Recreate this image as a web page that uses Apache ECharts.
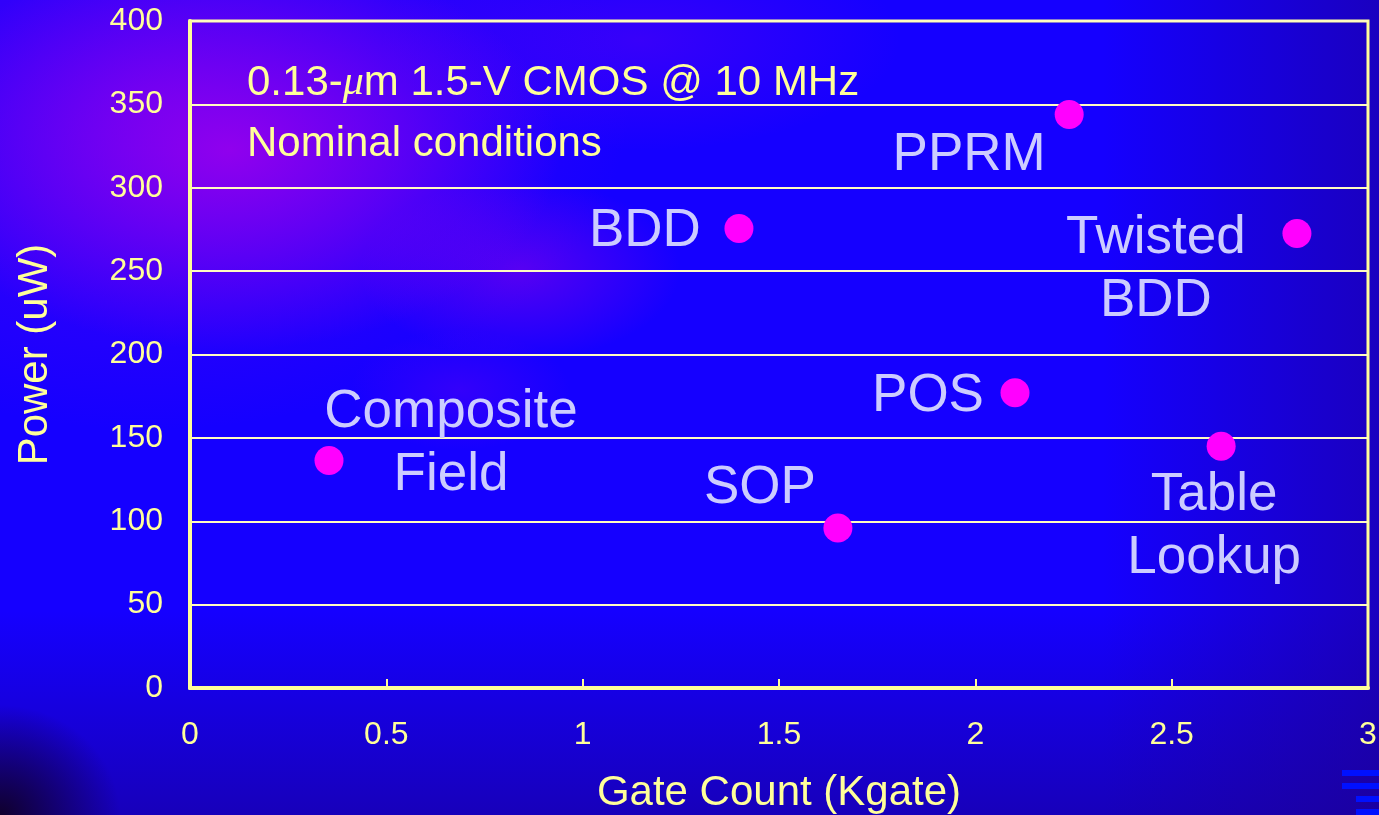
<!DOCTYPE html>
<html>
<head>
<meta charset="utf-8">
<script src="https://cdn.jsdelivr.net/npm/echarts@6/dist/echarts.min.js"></script>
<style>
html,body{margin:0;padding:0;width:1379px;height:815px;overflow:hidden;}
body{
  background:
    radial-gradient(ellipse 120px 110px at 0px 815px, rgba(15,0,30,0.9), rgba(15,0,30,0) 100%),
    radial-gradient(ellipse 330px 200px at 230px 150px, rgba(165,0,235,0.8), rgba(150,0,235,0) 100%),
    radial-gradient(ellipse 480px 330px at 150px 100px, rgba(110,0,240,0.55), rgba(110,0,240,0) 100%),
    radial-gradient(ellipse 160px 90px at 520px 270px, rgba(150,0,230,0.5), rgba(140,0,230,0) 100%),
    radial-gradient(ellipse 260px 110px at 640px 40px, rgba(120,0,240,0.35), rgba(120,0,240,0) 100%),
    radial-gradient(ellipse 110px 60px at 460px 390px, rgba(120,0,240,0.3), rgba(120,0,240,0) 100%),
    linear-gradient(90deg, rgba(30,0,140,0) 80%, rgba(30,0,140,0.55) 100%),
    linear-gradient(180deg, rgba(20,0,120,0) 75%, rgba(25,0,130,0.55) 100%),
    #1500ff;
}
#chart{width:1379px;height:815px;}
</style>
</head>
<body>
<div id="chart"></div>
<script>
// ---- data ----
var names = ['Composite\nField', 'BDD', 'SOP', 'POS', 'PPRM', 'Table\nLookup', 'Twisted\nBDD'];
var gateCount = [0.354, 1.398, 1.650, 2.101, 2.239, 2.626, 2.819];   // Kgate
var power = [136.5, 275.5, 96, 177, 344, 145, 272.5];                 // uW
var xTicks = [0, 0.5, 1, 1.5, 2, 2.5, 3];
var yTicks = [0, 50, 100, 150, 200, 250, 300, 350, 400];
var noteLine1 = ['0.13-', '\u03bc', 'm 1.5-V CMOS @ 10 MHz'];
var noteLine2 = 'Nominal conditions';

// ---- label layout (styles) ----
var labelOffsets = [[122, -16], [-94, 3], [-78, -40], [-87, 4], [-100, 41], [-7, 81], [-141, 36]];

var chart = echarts.init(document.getElementById('chart'));
var yellow = '#ffff99';
var seriesData = names.map(function (n, i) {
  return {
    name: n,
    value: [gateCount[i], power[i]],
    label: { offset: labelOffsets[i] }
  };
});

chart.setOption({
  backgroundColor: 'transparent',
  animation: false,
  grid: {
    left: 190, right: 11, top: 21, bottom: 127,
    containLabel: false, outerBoundsMode: 'none',
    show: true, borderColor: yellow, borderWidth: 3, backgroundColor: 'transparent'
  },
  xAxis: {
    type: 'value', min: xTicks[0], max: xTicks[xTicks.length - 1], interval: 0.5,
    name: 'Gate Count (Kgate)', nameLocation: 'middle', nameGap: 84,
    nameTextStyle: { color: yellow, fontSize: 42, fontFamily: 'Liberation Sans' },
    axisLine: { show: true, lineStyle: { color: yellow, width: 4 } },
    axisTick: { show: true, inside: true, length: 9, lineStyle: { color: yellow, width: 2 } },
    axisLabel: { color: yellow, fontSize: 32, fontFamily: 'Liberation Sans', margin: 31,
      formatter: function (v) { return String(v); } },
    splitLine: { show: false }
  },
  yAxis: {
    type: 'value', min: yTicks[0], max: yTicks[yTicks.length - 1], interval: 50,
    name: 'Power (uW)', nameLocation: 'middle', nameGap: 134,
    nameTextStyle: { color: yellow, fontSize: 42, fontFamily: 'Liberation Sans' },
    axisLine: { show: true, lineStyle: { color: yellow, width: 4 } },
    axisTick: { show: false },
    axisLabel: { color: yellow, fontSize: 32, fontFamily: 'Liberation Sans', margin: 27 },
    splitLine: { show: true, lineStyle: { color: '#fffcc0', width: 2 } }
  },
  graphic: [
    { type: 'text', left: 247, top: 62, z: 10,
      style: {
        text: '{a|' + noteLine1[0] + '}{i|' + noteLine1[1] + '}{a|' + noteLine1[2] + '}',
        rich: {
          a: { fill: yellow, font: '42px "Liberation Sans"' },
          i: { fill: yellow, font: 'italic 42px "Liberation Serif"' }
        }
      } },
    { type: 'text', left: 247, top: 123, z: 10,
      style: { text: noteLine2, fill: yellow, font: '42px "Liberation Sans"' } },
    { type: 'rect', shape: { x: 1342, y: 770, width: 37, height: 6 }, style: { fill: '#0010ff' } },
    { type: 'rect', shape: { x: 1342, y: 783, width: 37, height: 6 }, style: { fill: '#0010ff' } },
    { type: 'rect', shape: { x: 1356, y: 796, width: 23, height: 6 }, style: { fill: '#0010ff' } },
    { type: 'rect', shape: { x: 1356, y: 809, width: 23, height: 6 }, style: { fill: '#0010ff' } }
  ],
  series: [{
    type: 'scatter',
    symbol: 'circle',
    symbolSize: 29,
    itemStyle: { color: '#ff00ff', opacity: 1 },
    label: {
      show: true, position: 'inside', formatter: '{b}',
      color: '#ccccff', fontSize: 53, lineHeight: 63, fontFamily: 'Liberation Sans',
      align: 'center', verticalAlign: 'middle'
    },
    emphasis: { disabled: true },
    data: seriesData
  }]
});
</script>
</body>
</html>
